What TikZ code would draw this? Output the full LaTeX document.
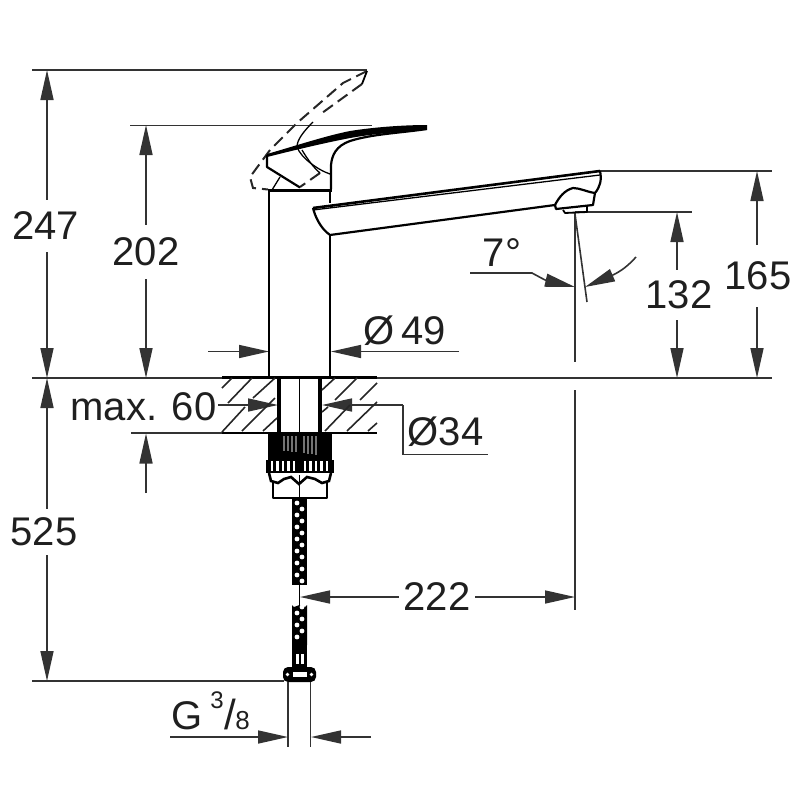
\documentclass[tikz,border=0pt]{standalone}
\usepackage{fontspec}
\setmainfont{Liberation Sans}
\usetikzlibrary{arrows.meta}
\tikzset{
  dimtip/.tip={Triangle[length=30pt,width=13pt]},
  dimline/.style={line width=1.6pt,draw=black!80},
  outline/.style={line width=2.2pt,draw=black,line join=round},
  thin part/.style={line width=1.3pt,draw=black},
  dash part/.style={line width=2pt,draw=black!85,dash pattern=on 12pt off 6pt},
  hatching/.style={line width=1.6pt,draw=black!85},
  lbl/.style={inner sep=0pt,text=black!88,font=\fontsize{40}{41}\selectfont},
  gap/.style={lbl,minimum height=#1}
}
\begin{document}
\begin{tikzpicture}[x=1pt,y=-1pt]
\useasboundingbox (0,0) rectangle (800,800);
% ---- label nodes
\node[gap=52] (t247) at (45.5,226) {247};
\node[gap=54] (t202) at (146,252) {202};
\node[gap=46] (t525) at (44,532) {525};
\node[gap=50] (t132) at (679,295) {132};
\node[gap=62] (t165) at (758,276) {165};
\node[lbl,minimum width=76pt] (t222) at (437,597) {222};
\node[lbl] (t7) at (502,253) {7°};
\node[lbl] (t49) at (405,331) {Ø\,49};
\node[lbl] (t34) at (445.5,432) {Ø34};
\node[lbl] (t60) at (143.5,407) {max. 60};
\node[lbl,anchor=base west] (tg) at (171,729) {G\hspace{8pt}\raisebox{21pt}{\fontsize{24}{24}\selectfont 3}\hspace{1pt}{\fontsize{42}{42}\selectfont /}\hspace{-1pt}{\fontsize{26}{26}\selectfont 8}};
% ---- reference coordinates
\coordinate (top) at (47,70);
\coordinate (base) at (47,378);
\coordinate (bot) at (47,681);
\coordinate (h202) at (146,125);
\coordinate (b202) at (146,378);
\coordinate (h132) at (677,212);
\coordinate (b132) at (677,378);
\coordinate (h165) at (757,171);
\coordinate (b165) at (757,378);
% ---- extension lines
\draw[dimline] (32,70) -- (367,70);
\draw[dimline] (130,125.5) -- (372,125.5);
\draw[dimline] (32,378) -- (222,378);
\draw[dimline] (377,378) -- (772,378);
\draw[dimline] (32,681) -- (284,681);
\draw[dimline] (131,433) -- (222,433);
\draw[dimline] (575,212) -- (692,212);
\draw[dimline] (600,171) -- (772,171);
\draw[dimline] (575,213) -- (575,362);
\draw[dimline] (575,390) -- (575,610);
\draw[dimline] (587,302) -- (575,214);
% ---- vertical dimensions
\draw[dimline,-{dimtip}] (t247.north -| top) -- (top);
\draw[dimline,-{dimtip}] (t247.south -| top) -- (base);
\draw[dimline,-{dimtip}] (t525.north -| top) -- (base);
\draw[dimline,-{dimtip}] (t525.south -| top) -- (bot);
\draw[dimline,-{dimtip}] (t202.north) -- (h202);
\draw[dimline,-{dimtip}] (t202.south) -- (b202);
\draw[dimline,-{dimtip}] (t132.north -| h132) -- (h132);
\draw[dimline,-{dimtip}] (t132.south -| h132) -- (b132);
\draw[dimline,-{dimtip}] (t165.north -| h165) -- (h165);
\draw[dimline,-{dimtip}] (t165.south -| h165) -- (b165);
\draw[dimline,-{dimtip}] (146,493) -- (146,433.5);
% ---- horizontal dimensions
\draw[dimline,-{dimtip}] (208,351.5) -- (269,351.5);
\draw[dimline,-{dimtip}] (459,351.5) -- (331,351.5);
\draw[dimline,-{dimtip}] (218,405) -- (278,405);
\draw[dimline,-{dimtip}] (403,405) -- (322,405);
\draw[dimline] (403,405) -- (403,454.5) -- (488,454.5);
\draw[dimline,-{dimtip}] (t222.west) -- (300,597);
\draw[dimline,-{dimtip}] (t222.east) -- (575,597);
\draw[dimline,-{dimtip}] (170,737) -- (288,737);
\draw[dimline,-{dimtip}] (371,737) -- (311,737);
% ---- 7 degree marks
\draw[dimline] (470,273) -- (532,273) -- (545,280);
\draw[dimline,-{dimtip}] (545,280) -- (575,287);
\draw[dimline] (636,257) .. controls (628,266) and (621,271) .. (613,275);
\draw[dimline,-{dimtip}] (613,275) -- (585,287);
% ---- raised lever (dashed)
\draw[dash part] (367,71) -- (343,83) -- (297,123) -- (270,150) -- (250,177) -- (253,188) -- (268,189.5);
\draw[dash part] (362,84) -- (322,113);
\draw[dash part] (320,173) -- (300,187);
\draw[line width=1.8pt] (367,71) -- (362,84);
\draw[thin part] (313,122) .. controls (303,132) and (297,140) .. (297,147) .. controls (301,158) and (318,170) .. (330,174);
\draw[thin part] (302,150) .. controls (308,160) and (314,168) .. (320,173);
\draw[thin part] (280,177) -- (272,190);
% ---- lever
\fill[black] (267,154) .. controls (295,146) and (325,136) .. (350,131) .. controls (375,127) and (405,125) .. (427,125) -- (427,129) .. controls (405,132) and (375,133) .. (345,139) .. controls (320,144) and (295,150) .. (267,157) -- cycle;
\draw[outline] (267,155) -- (267,167) -- (300,187.5);
\draw[outline] (427,129) .. controls (400,133) and (372,134) .. (350,141) .. controls (336,146) and (332,155) .. (331,165) -- (331,189);
% ---- body
\draw[line width=3.2pt] (268,190.5) -- (332,190.5);
\draw[outline] (269,190) -- (269,378);
\draw[outline] (330,190) -- (330,203);
\draw[outline] (330,235) -- (330,378);
% ---- spout
\draw[outline,line width=2.6pt] (313,208) -- (600,171);
\draw[thin part] (313,210) -- (600,175);
\draw[outline] (313,208) .. controls (315,216) and (320,228) .. (330,235) -- (555,205);
\draw[outline] (600,171) .. controls (602,180) and (600,187) .. (595,193) -- (593,205) -- (556,209) -- (555,205) .. controls (559,197) and (565,190) .. (573,188) .. controls (580,188) and (587,192) .. (595,193);
\draw[outline,line width=1.8pt] (563,210) -- (565,213) -- (587,212) -- (587,206);
% ---- counter
\draw[line width=2.2pt] (222,377.5) -- (377,377.5);
\draw[line width=2.2pt] (222,433) -- (377,433);
\draw[line width=3.6pt] (279,378) -- (279,433);
\draw[line width=3.6pt] (320,378) -- (320,433);
\draw[thin part] (299.5,378) -- (299.5,433);
\foreach \a/\b/\c/\d in {222/388/232/378,228/403/252/378,253/398/275/378,222/432/245/407,242/431/275/398,263/431/277/418,322/390/335/378,335/400/357/378,360/400/377/383,322/412/328/407,325/431/350/405,347/431/377/402,368/431/377/423}
  \draw[hatching] (\a,\b) -- (\c,\d);
% ---- mounting nut
\fill[black] (268,433) rectangle (332,460);
\foreach \x in {284,288,292,296,304,308,312,316}
  \draw[line width=1.2pt,draw=black!55] (\x,436) -- (\x,\x/8+415);
\fill[black] (266,460) rectangle (334,473);
\foreach \x in {272,277.5,283,288.5,294,305,310.5,316,321.5,327}
  \draw[line width=2.6pt,white] (\x,461) -- (\x,471);
\draw[outline,fill=white] (273,482) -- (273,498) -- (327,498) -- (327,482);
\draw[line width=2.6pt] (269,473) -- (271,481) -- (278,483) -- (284,479) -- (291,477) -- (299,484) -- (307,477) -- (315,479) -- (322,483) -- (329,481) -- (331,473);
\draw[thin part] (299.5,475) -- (299.5,498);
% ---- hose
\fill[black] (292,499) rectangle (307,585);
\fill[black] (292,605) -- (294,607) -- (299.5,605) -- (305,607) -- (307,605) -- (307,645) -- (292,645) -- cycle;
\foreach \y in {503,515,527,539,551,563,575,613,625,637}
  \fill[white] (297,\y) circle (2.4pt);
\foreach \y in {509,521,533,545,557,569,581,607,619,631}
  \fill[white] (302,\y) circle (2.4pt);
\draw[thin part] (299.5,585) -- (299.5,605);
% ---- supply fitting
\fill[black] (292,645) rectangle (307,668);
\fill[white] (296,654) rectangle (298.5,664);
\fill[white] (301,654) rectangle (303.5,664);
\fill[black,rounded corners=5pt] (283,667) rectangle (316,682);
\fill[white] (292.5,672) rectangle (306.5,677);
\fill[white] (287.5,674.5) circle (1.8pt);
\fill[white] (311.5,674.5) circle (1.8pt);
\draw[dimline] (288,682) -- (288,747);
\draw[dimline] (310.5,682) -- (310.5,747);
\end{tikzpicture}
\end{document}
